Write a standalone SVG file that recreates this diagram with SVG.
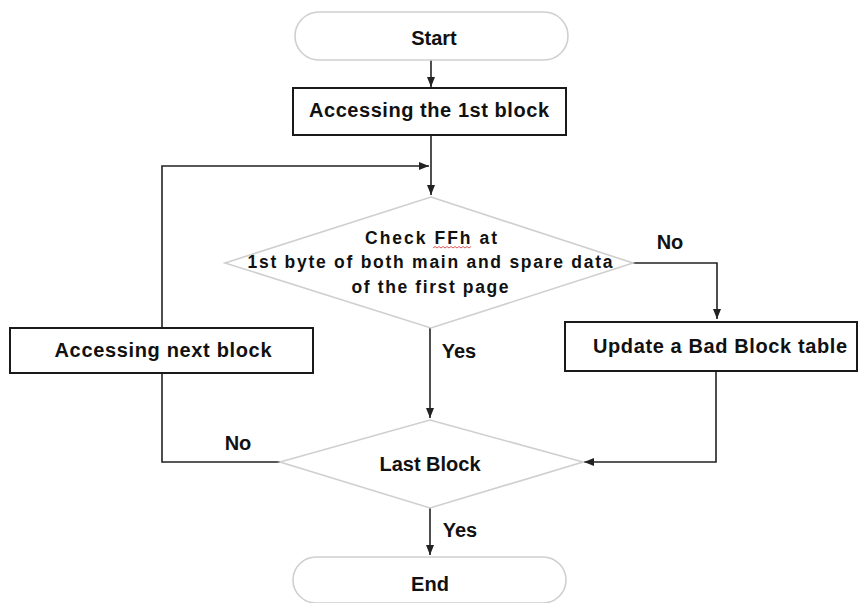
<svg xmlns="http://www.w3.org/2000/svg" width="858" height="603" viewBox="0 0 858 603">
  <style>
    text { font-family: "Liberation Sans", Arial, sans-serif; font-weight: bold; fill: #111; text-anchor: middle; }
    .lbl { font-size: 20px; }
    .dtxt { font-size: 17.5px; }
    .pill, .dia { fill: #fff; stroke: #cfcfcf; stroke-width: 1.6; }
    .box { fill: #fff; stroke: #1a1a1a; stroke-width: 2; }
    .conn { fill: none; stroke: #222; stroke-width: 1.6; }
  </style>
  <defs>
    <marker id="arrow" markerUnits="userSpaceOnUse" markerWidth="10" markerHeight="8" refX="10" refY="4" orient="auto">
      <path d="M0,0 L10,4 L0,8 Z" fill="#222"/>
    </marker>
  </defs>
  <rect width="858" height="603" fill="#fff"/>

  <!-- connectors -->
  <g id="connectors">
    <path class="conn" d="M431,60 V87" marker-end="url(#arrow)"/>
    <path class="conn" d="M431,135 V195" marker-end="url(#arrow)"/>
    <path class="conn" d="M162,328 V166 H429" marker-end="url(#arrow)"/>
    <path class="conn" d="M162,373 V462 H280"/>
    <path class="conn" d="M633,263 H717 V319" marker-end="url(#arrow)"/>
    <path class="conn" d="M430,328 V418" marker-end="url(#arrow)"/>
    <path class="conn" d="M716,371 V462 H584" marker-end="url(#arrow)"/>
    <path class="conn" d="M430,508 V555" marker-end="url(#arrow)"/>
  </g>

  <g id="start">
    <rect class="pill" x="295" y="12" width="273" height="48" rx="24"/>
    <text class="lbl" x="434" y="45">Start</text>
  </g>

  <g id="first-block">
    <rect class="box" x="293" y="88" width="273" height="47"/>
    <text class="lbl" x="429" y="117" textLength="240" lengthAdjust="spacing">Accessing the 1st block</text>
  </g>

  <g id="check-ffh">
    <polygon class="dia" points="431,197 633,263 431,328 225,263"/>
    <text class="dtxt" x="431" y="244" textLength="132" lengthAdjust="spacing">Check FFh at</text>
    <!-- spell-check squiggle under FFh -->
    <path d="M433,248 l2,-1.5 l2,1.5 l2,-1.5 l2,1.5 l2,-1.5 l2,1.5 l2,-1.5 l2,1.5 l2,-1.5 l2,1.5 l2,-1.5 l2,1.5 l2,-1.5 l2,1.5 l2,-1.5 l2,1.5 l2,-1.5 l2,1.5 l2,-1.5" fill="none" stroke="#d03030" stroke-width="0.8"/>
    <text class="dtxt" x="430" y="268" textLength="365" lengthAdjust="spacing">1st byte of both main and spare data</text>
    <text class="dtxt" x="430" y="293" textLength="157" lengthAdjust="spacing">of the first page</text>
  </g>

  <g id="next-block">
    <rect class="box" x="10" y="328" width="303" height="45"/>
    <text class="lbl" x="163" y="357" textLength="217" lengthAdjust="spacing">Accessing next block</text>
  </g>

  <g id="bad-block">
    <rect class="box" x="565" y="322" width="292" height="49"/>
    <text class="lbl" x="720" y="353" textLength="254" lengthAdjust="spacing">Update a Bad Block table</text>
  </g>

  <g id="last-block">
    <polygon class="dia" points="430,420 583,462 430,508 280,462"/>
    <text class="lbl" x="430" y="471">Last Block</text>
  </g>

  <g id="end">
    <rect class="pill" x="293" y="557" width="273" height="46" rx="23"/>
    <text class="lbl" x="430" y="591">End</text>
  </g>

  <g id="edge-labels">
    <text class="lbl" x="670" y="249">No</text>
    <text class="lbl" x="459" y="358">Yes</text>
    <text class="lbl" x="238" y="450">No</text>
    <text class="lbl" x="460" y="537">Yes</text>
  </g>
</svg>
